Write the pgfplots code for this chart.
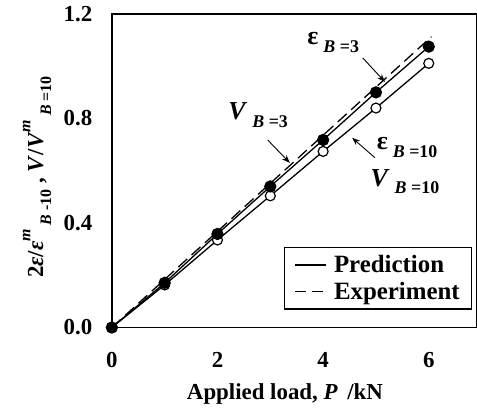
\documentclass[border=0pt]{standalone}
\usepackage{fontspec}
\setmainfont{Liberation Serif}
\usepackage{pgfplots}
\pgfplotsset{compat=1.18}
\usetikzlibrary{arrows.meta}

\newcommand{\bigf}{\fontsize{23}{27}\selectfont\bfseries}
\newcommand{\legf}{\fontsize{25}{29}\selectfont\bfseries}
\newcommand{\subf}{\fontsize{16}{18}\selectfont\bfseries}
% superscript then subscript after a symbol
\newcommand{\sps}[2]{\raisebox{0.55em}{\subf\textit{#1}}\hspace{4bp}\raisebox{-0.35em}{\subf #2}}
\newcommand{\lab}[2]{#1\hspace{5bp}\raisebox{-0.3em}{\fontsize{18}{20}\selectfont\bfseries #2}}

\begin{document}
\begin{tikzpicture}
\begin{axis}[
  scale only axis, width=365bp, height=314bp,
  xmin=0, xmax=6.9, ymin=0, ymax=1.2,
  xtick={0,2,4,6}, ytick={0,0.4,0.8,1.2},
  tick style={draw=none},
  axis line style={line width=1.4bp},
  clip=false,
  ticklabel style={font=\bigf},
  /pgf/number format/assume math mode=true,
  yticklabel style={/pgf/number format/fixed, /pgf/number format/fixed zerofill,
    /pgf/number format/precision=1, xshift=-16bp},
  xticklabel style={yshift=-21bp},
  xlabel={Applied load, \textit{P}\, /kN},
  xlabel style={font=\bigf, at={(axis description cs:0.475,0)}, anchor=base, yshift=-72bp},
  ylabel={2\textit{ε}/\textit{ε}\sps{m}{\textit{B} -10} , \textit{V}/\textit{V}\sps{m}{\textit{B} =10}},
  ylabel style={font=\bigf, at={(axis description cs:-0.205,0.48)}, anchor=center},
  legend style={at={(axis description cs:0.989,0.057)}, anchor=south east,
    draw=black, line width=1.2bp, font=\legf, inner xsep=10bp, inner ysep=6bp, row sep=4bp},
  legend cell align=left,
  legend image code/.code={\draw[#1, line width=1.3bp] (0bp,0bp) -- (31bp,0bp);},
]
\addlegendimage{black, solid}
\addlegendentry{\hspace{5bp}Prediction\hspace{18bp}}
\addlegendimage{black, dash pattern=on 11bp off 6bp}
\addlegendentry{\hspace{5bp}Experiment\hspace{18bp}}

% experiment (dashed)
\addplot[forget plot, black, line width=1.3bp, dash pattern=on 12bp off 6bp] coordinates {
  (0,0) (6.05,1.113)};
% prediction, B=10 (open circles)
\addplot[forget plot, black, line width=1.3bp, mark=*, mark size=5bp,
  mark options={solid, fill=white, line width=1.2bp}] coordinates {
  (0,0) (1,0.163) (2,0.335) (3,0.504) (4,0.674) (5,0.840) (6,1.011)};
% prediction, B=3 (filled circles)
\addplot[forget plot, black, line width=1.3bp, mark=*, mark size=5.5bp,
  mark options={solid, fill=black}] coordinates {
  (0,0) (1,0.171) (2,0.358) (3,0.540) (4,0.718) (5,0.900) (6,1.075)};

\node[font=\bigf] at (axis cs:4.19,1.09) {\lab{\fontsize{26}{28}\selectfont ε}{\textit{B} =3}};
\draw[-{Stealth[length=8bp,width=6bp]}, line width=0.9bp] (axis cs:4.75,1.032) -- (axis cs:5.17,0.94);
\node[font=\bigf] at (axis cs:2.77,0.814) {\lab{\fontsize{26}{28}\selectfont\textit{V}}{\textit{B} =3}};
\draw[-{Stealth[length=8bp,width=6bp]}, line width=0.9bp] (axis cs:2.95,0.718) -- (axis cs:3.37,0.63);
\node[font=\bigf] at (axis cs:5.59,0.688) {\lab{\fontsize{26}{28}\selectfont ε}{\textit{B} =10}};
\node[font=\bigf] at (axis cs:5.55,0.558) {\lab{\fontsize{26}{28}\selectfont\textit{V}}{\textit{B} =10}};
\draw[-{Stealth[length=8bp,width=6bp]}, line width=0.9bp] (axis cs:4.98,0.65) -- (axis cs:4.55,0.726);
\end{axis}
\path (current axis.south west) ++(-112bp,-82bp) rectangle ++(477bp,410bp);
\end{tikzpicture}
\end{document}
